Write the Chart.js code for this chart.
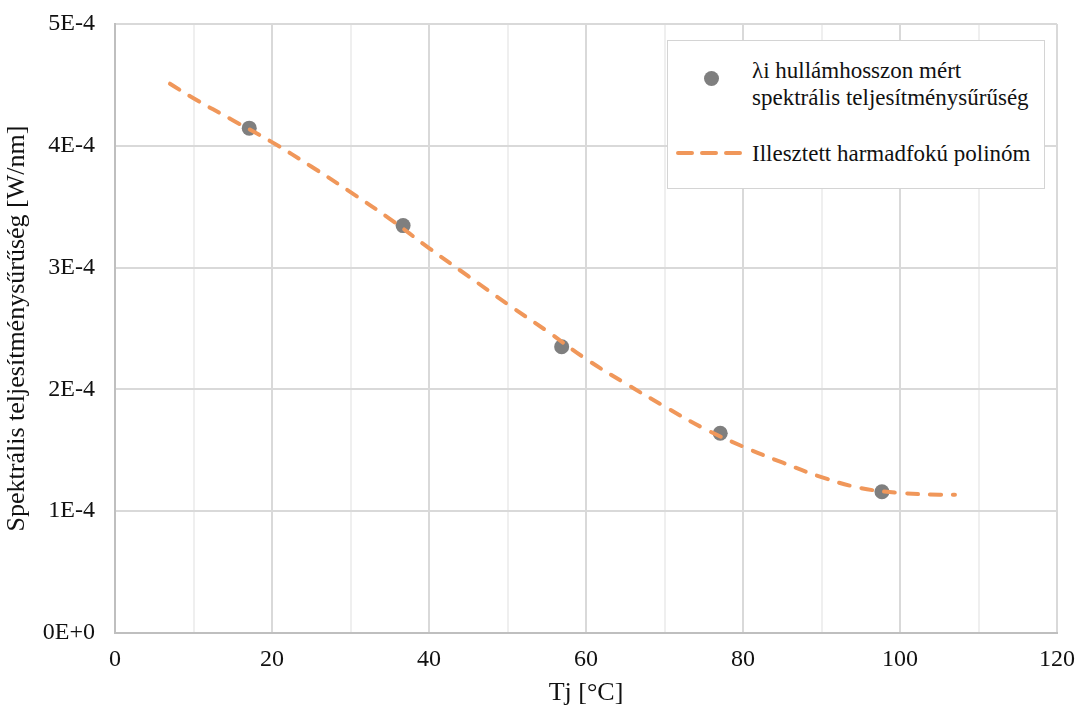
<!DOCTYPE html>
<html>
<head>
<meta charset="utf-8">
<script src="https://cdn.jsdelivr.net/npm/chart.js@4"></script>
<style>
	html, body { margin: 0; padding: 0; background: #fff; }
	#wrap { position: relative; width: 1078px; height: 711px; }
	#legend {
		position: absolute; left: 667px; top: 40px; width: 376px; height: 147px;
		border: 1.5px solid #d4d4d4; background: #fff;
		font-family: "Liberation Serif", "Times New Roman", serif; font-size: 23px; color: #111;
	}
	.lg-dot { position: absolute; left: 36px; top: 30px; width: 15px; height: 15px; border-radius: 50%; background: #7f7f7f; }
	.lg-t1 { position: absolute; left: 84px; top: 16px; line-height: 27px; white-space: nowrap; }
	.lg-t2 { position: absolute; left: 84px; top: 99px; line-height: 27px; white-space: nowrap; }
	.lg-dash { position: absolute; left: 8px; top: 107px; }
</style>
</head>
<body>
<div id="wrap">
	<canvas id="myChart" width="1078" height="711"></canvas>
	<div id="legend">
		<div class="lg-dot"></div>
		<div class="lg-t1">λi hullámhosszon mért<br>spektrális teljesítménysűrűség</div>
		<svg class="lg-dash" width="74" height="10"><line x1="2" y1="5" x2="72" y2="5" stroke="#f0975a" stroke-width="4" stroke-linecap="round" stroke-dasharray="14 10"/></svg>
		<div class="lg-t2">Illesztett harmadfokú polinóm</div>
	</div>
</div>
<script>
// mért pontok
const meresX = [17.1, 36.7, 56.9, 77.1, 97.7];
const meresY = [4.145e-4, 3.345e-4, 2.35e-4, 1.64e-4, 1.16e-4];

// illesztett görbe (leolvasva)
const gorbeX = [7, 10, 15, 20, 25, 30, 35, 40, 45, 50, 55, 60, 65, 70, 75, 80, 85, 90, 95, 100, 105, 107];
const gorbeY = [4.51e-4, 4.39e-4, 4.21e-4, 4.03e-4, 3.83e-4, 3.62e-4, 3.40e-4, 3.16e-4, 2.93e-4, 2.70e-4, 2.48e-4,
	2.25e-4, 2.05e-4, 1.86e-4, 1.68e-4, 1.53e-4, 1.40e-4, 1.28e-4, 1.19e-4, 1.15e-4, 1.135e-4, 1.135e-4];

const xTicks = [0, 20, 40, 60, 80, 100, 120];
const yTicks = ['0E+0', '1E-4', '2E-4', '3E-4', '4E-4', '5E-4'];

const serif = "'Liberation Serif', 'Times New Roman', serif";

const ctx = document.getElementById('myChart').getContext('2d');
new Chart(ctx, {
	type: 'scatter',
	data: {
		datasets: [{
			label: 'Illesztett harmadfokú polinóm',
			data: gorbeX.map((x, i) => ({ x: x, y: gorbeY[i] })),
			showLine: true,
			tension: 0.4,
			borderColor: '#f0975a',
			borderWidth: 4,
			borderDash: [11, 12],
			borderCapStyle: 'round',
			pointRadius: 0
		}, {
			label: 'λi hullámhosszon mért spektrális teljesítménysűrűség',
			data: meresX.map((x, i) => ({ x: x, y: meresY[i] })),
			backgroundColor: '#7f7f7f',
			borderColor: '#7f7f7f',
			pointRadius: 7.5,
			pointBorderWidth: 0
		}]
	},
	options: {
		responsive: false,
		animation: false,
		layout: { padding: { left: 0, right: 21, top: 24, bottom: 0 } },
		plugins: {
			legend: { display: false },
			tooltip: { enabled: false }
		},
		scales: {
			x: {
				type: 'linear',
				min: 0,
				max: 120,
				afterFit: s => { s.height = 78; s.paddingLeft = 0; s.paddingRight = 0; },
				ticks: {
					stepSize: 10,
					padding: 12,
					maxRotation: 0,
					color: '#111',
					font: { family: serif, size: 24 },
					callback: v => xTicks.includes(v) ? String(v) : ''
				},
				grid: {
					drawTicks: false,
					color: c => (c.tick && c.tick.value % 20 === 0) ? '#d9d9d9' : '#efefef',
					lineWidth: 2
				},
				border: { color: '#bfbfbf', width: 2 },
				title: {
					display: true,
					text: 'Tj [°C]',
					color: '#111',
					font: { family: serif, size: 26 },
					padding: { top: 0, bottom: 2 }
				}
			},
			y: {
				min: 0,
				max: 5e-4,
				afterFit: s => { s.width = 115; s.paddingTop = 0; s.paddingBottom = 0; },
				ticks: {
					stepSize: 1e-4,
					padding: 20,
					color: '#111',
					font: { family: serif, size: 24 },
					callback: v => yTicks[Math.round(v * 1e4)]
				},
				grid: { drawTicks: false, color: '#d9d9d9', lineWidth: 2 },
				border: { color: '#bfbfbf', width: 2 },
				title: {
					display: true,
					text: 'Spektrális teljesítménysűrűség [W/nm]',
					color: '#111',
					font: { family: serif, size: 26 },
					padding: { top: 2, bottom: 0 }
				}
			}
		}
	}
});
</script>
</body>
</html>
